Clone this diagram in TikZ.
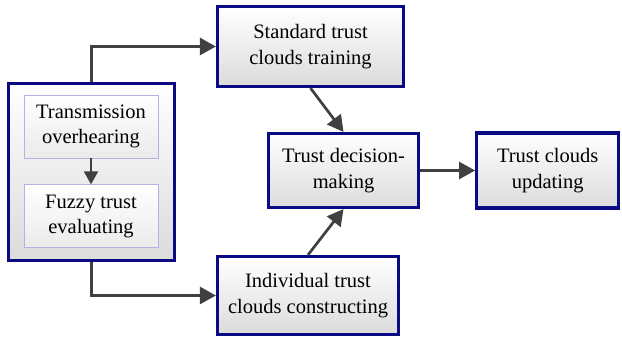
\documentclass[tikz,border=0pt]{standalone}
\usepackage{fontspec}
\setmainfont{Liberation Serif}
\usepackage{tikz}
\definecolor{boxNavy}{RGB}{10, 10, 130}
\definecolor{innerLilac}{RGB}{185, 175, 225}
\definecolor{arrowGray}{RGB}{64, 64, 64}
\usetikzlibrary{arrows.meta, positioning}

\begin{document}
\begin{tikzpicture}[
    x=1pt, y=-1pt,
    font=\rmfamily\fontsize{20.5}{25.5}\selectfont,
    proc/.style={rectangle, draw=boxNavy, line width=3.2pt, top color=white, bottom color=black!14, align=center, inner sep=0pt},
    inner/.style={rectangle, draw=innerLilac, line width=0.8pt, top color=white, bottom color=black!8, align=center, minimum width=134pt, minimum height=63pt, inner sep=0pt},
    arr/.style={draw=arrowGray, line width=2.7pt, -{Triangle[length=16pt, width=17pt]}}
]
    \useasboundingbox (0,0) rectangle (622,343);

    \node[proc, minimum width=166pt, minimum height=177pt] (group) at (91.5,172) {};
    \node[inner] (overhear) at (91,126.5) {Transmission\\overhearing};
    \node[inner, below=26pt of overhear] (fuzzy) {Fuzzy trust\\evaluating};

    \node[proc, minimum width=186pt, minimum height=80pt] (standard) at (310.5,46.5) {Standard trust\\clouds training};
    \node[proc, minimum width=181pt, minimum height=78pt] (individual) at (308,295.5) {Individual trust\\clouds constructing};
    \node[proc, minimum width=150pt, minimum height=74pt] (decision) at (343.5,170.5) {Trust decision-\\making};
    \node[proc, minimum width=142pt, minimum height=75pt, right=55pt of decision] (updating) {Trust clouds\\updating};

    \draw[arr, line width=1.8pt, -{Triangle[length=13pt, width=14pt]}] (overhear) -- (fuzzy);
    \draw[arr] (group.north) |- (standard.west);
    \draw[arr] (group.south) |- (individual.west);
    \draw[arr] (standard.south) -- (decision.north);
    \draw[arr] (individual.north) -- (decision.south);
    \draw[arr] (decision) -- (updating);
\end{tikzpicture}
\end{document}
